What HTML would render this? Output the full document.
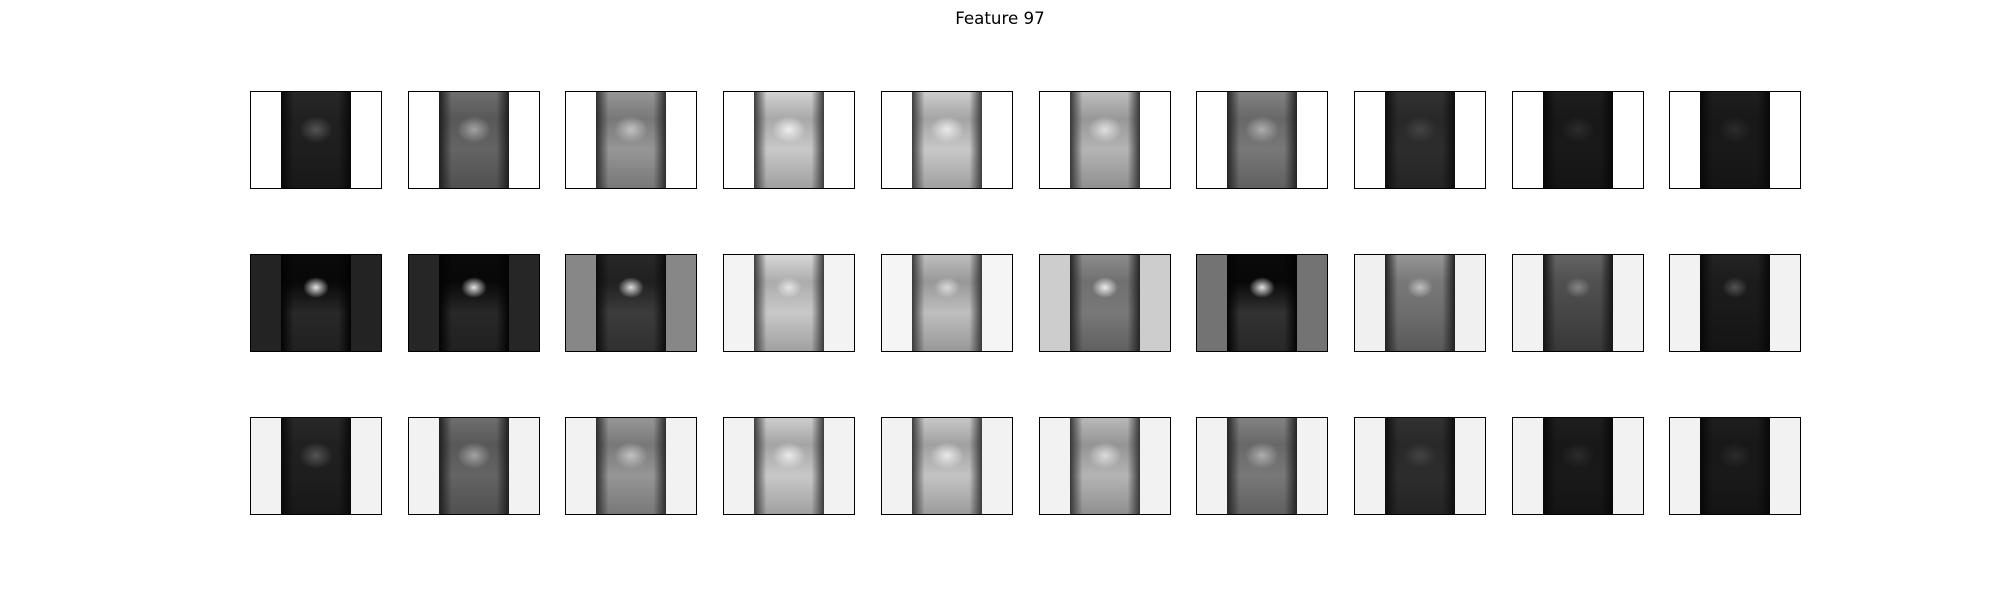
<!DOCTYPE html>
<html><head><meta charset="utf-8">
<style>
html,body{margin:0;padding:0;background:#fff;}
#fig{position:relative;width:2000px;height:600px;overflow:hidden;background:#fff;}
#title{position:absolute;left:0;width:2000px;top:8px;text-align:center;font-family:"DejaVu Sans","Liberation Sans",sans-serif;font-size:16.7px;color:#000;}
.tile{position:absolute;box-sizing:border-box;border:1.5px solid #000;overflow:hidden;}
.inner{position:absolute;top:0;bottom:0;}
.blob{position:absolute;border-radius:50%;}
</style></head>
<body>
<div id="fig">
<div id="title">Feature 97</div>
</div>
<script>
// outer background gray level per tile (0-255), rows x 10
const outerRow1 = [255,255,255,255,255,255,255,255,255,255];
const outerRow2 = [35,38,135,243,245,205,115,240,242,242];
const outerRow3 = [242,242,242,242,242,242,242,242,242,242];
// inner body brightness top / bottom
const innerTopRow1 = [40,110,150,210,205,190,130,50,30,30];
const innerBotRow1 = [30,100,150,200,200,180,120,45,25,25];
const innerTopRow2 = [10,10,40,215,190,140,10,150,100,35];
const innerBotRow2 = [40,40,60,200,190,120,50,110,70,25];
const innerTopRow3 = [40,110,150,205,200,185,130,50,30,30];
const innerBotRow3 = [30,100,150,200,195,180,120,45,25,25];
// bright blob intensity
const blobRow1 = [90,170,200,245,240,230,180,70,45,45];
const blobRow2 = [250,250,240,235,225,250,250,200,140,90];
const blobRow3 = [90,170,200,240,240,225,180,70,45,45];

const outers=[outerRow1,outerRow2,outerRow3];
const tops=[innerTopRow1,innerTopRow2,innerTopRow3];
const bots=[innerBotRow1,innerBotRow2,innerBotRow3];
const blobs=[blobRow1,blobRow2,blobRow3];
const rowY=[91,254,417];
const x0=250, dx=157.7, w=132, h=98;
const fig=document.getElementById('fig');
function g(v){v=Math.round(v);return 'rgb('+v+','+v+','+v+')';}
for(let r=0;r<3;r++){
  for(let c=0;c<10;c++){
    const t=document.createElement('div');
    t.className='tile';
    
    
    t.style.left=(x0+c*dx)+'px';t.style.top=rowY[r]+'px';
    t.style.width=w+'px';t.style.height=h+'px';
    t.style.background=g(outers[r][c]);
    const inn=document.createElement('div');
    inn.className='inner';
    
    
    inn.style.left='30px';inn.style.width='70px';
    const tp=tops[r][c], bt=bots[r][c];
    const edge=Math.max(0,Math.min(tp,bt)*0.3);
    inn.style.background='linear-gradient(to right,'+g(edge)+' 0%,rgba(0,0,0,0) 18%,rgba(0,0,0,0) 82%,'+g(edge)+' 100%),linear-gradient(to bottom,'+g(tp)+' 0%,'+g(tp*0.8)+' 28%,'+g(bt)+' 60%,'+g(bt*0.8)+' 100%)';
    t.appendChild(inn);
    const b=document.createElement('div');
    b.className='blob';
    
    
    const bs=r===1?26:34;
    b.style.left=(65-bs/2)+'px';b.style.top=(r===1?22:24)+'px';
    b.style.width=bs+'px';b.style.height=(bs*0.8)+'px';
    const bv=blobs[r][c];
    b.style.background='radial-gradient(ellipse at center,rgba('+bv+','+bv+','+bv+',0.9) 0%,rgba('+bv+','+bv+','+bv+',0) 70%)';
    t.appendChild(b);
    fig.appendChild(t);
  }
}
</script>
</body></html>
